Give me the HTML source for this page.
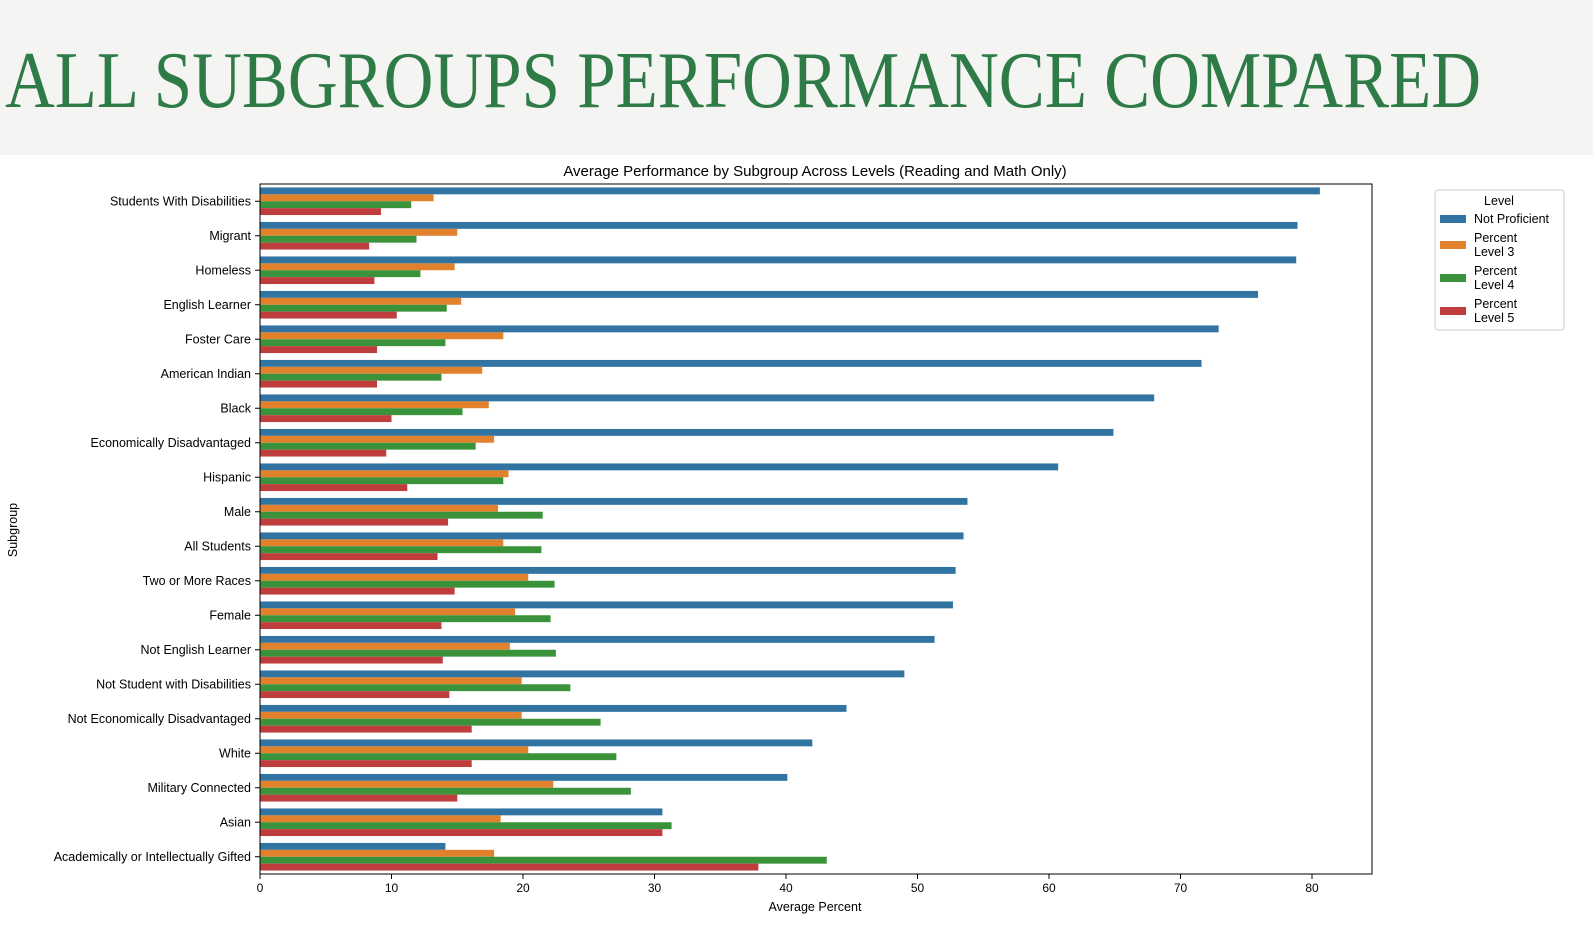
<!DOCTYPE html>
<html><head><meta charset="utf-8">
<style>
body{margin:0;width:1593px;height:928px;background:#fff;overflow:hidden;font-family:"Liberation Sans",sans-serif;}
#hdr{position:absolute;left:0;top:0;width:1593px;height:155px;background:#f4f4f2;}
svg{position:absolute;left:0;top:0;}
</style></head><body>
<div id="hdr"></div>
<svg id="chart" width="1593" height="928">
<text x="5" y="107" font-family="Liberation Serif, serif" font-size="80" fill="#2e7b47" textLength="1476" lengthAdjust="spacingAndGlyphs">ALL SUBGROUPS PERFORMANCE COMPARED</text>
</svg>
<script>
const categories=["Students With Disabilities","Migrant","Homeless","English Learner","Foster Care","American Indian","Black","Economically Disadvantaged","Hispanic","Male","All Students","Two or More Races","Female","Not English Learner","Not Student with Disabilities","Not Economically Disadvantaged","White","Military Connected","Asian","Academically or Intellectually Gifted"];
const notProficient=[80.6,78.9,78.8,75.9,72.9,71.6,68.0,64.9,60.7,53.8,53.5,52.9,52.7,51.3,49.0,44.6,42.0,40.1,30.6,14.1];
const level3=[13.2,15.0,14.8,15.3,18.5,16.9,17.4,17.8,18.9,18.1,18.5,20.4,19.4,19.0,19.9,19.9,20.4,22.3,18.3,17.8];
const level4=[11.5,11.9,12.2,14.2,14.1,13.8,15.4,16.4,18.5,21.5,21.4,22.4,22.1,22.5,23.6,25.9,27.1,28.2,31.3,43.1];
const level5=[9.2,8.3,8.7,10.4,8.9,8.9,10.0,9.6,11.2,14.3,13.5,14.8,13.8,13.9,14.4,16.1,16.1,15.0,30.6,37.9];
const seriesNames=["Not Proficient","Percent\nLevel 3","Percent\nLevel 4","Percent\nLevel 5"];
const xTicks=[0,10,20,30,40,50,60,70,80];
const colors=["#3274a1","#e1812c","#3a923a","#c03d3e"];
const svg=document.getElementById('chart');
const NS="http://www.w3.org/2000/svg";
const L=260,R=1372,T=184,B=874;
const xs=v=>L+v*13.15;
const band=(B-T)/categories.length;
const yc=i=>T+band*(i+0.5);
function mk(tag,attrs){const e=document.createElementNS(NS,tag);for(const k in attrs)e.setAttribute(k,attrs[k]);svg.appendChild(e);return e;}
function txt(x,y,s,size,anchor,extra){const e=mk('text',Object.assign({x:x,y:y,'font-size':size,'text-anchor':anchor,fill:'#000','font-family':'Liberation Sans, sans-serif'},extra||{}));e.textContent=s;return e;}
const t=txt(815,176,"Average Performance by Subgroup Across Levels (Reading and Math Only)",15,'middle');

const series=[notProficient,level3,level4,level5];
const bh=band*0.8/4;
series.forEach((arr,s)=>{arr.forEach((v,i)=>{
 const r=mk('rect',{x:xs(0),y:yc(i)-band*0.4+s*bh,width:xs(v)-xs(0),height:bh,fill:colors[s]});
 
 
});});
const fr=mk('rect',{x:L,y:T,width:R-L,height:B-T,fill:'none',stroke:'#000','stroke-width':1});

xTicks.forEach(v=>{
 mk('line',{x1:xs(v),x2:xs(v),y1:B,y2:B+5,stroke:'#000'});
 const e=txt(xs(v),892,String(v),12,'middle');
 
});
categories.forEach((c,i)=>{
 mk('line',{x1:L-5,x2:L,y1:yc(i),y2:yc(i),stroke:'#000'});
 const e=txt(251,yc(i)+4,c,12.5,'end');
 
});
const xl=txt(815,911,"Average Percent",12.5,'middle');

const yl=txt(17,530,"Subgroup",12.5,'middle',{transform:'rotate(-90 17 530)'});

const lb=mk('rect',{x:1435,y:190,width:129,height:140,fill:'#fff',stroke:'#ccc',rx:3});

const lt=txt(1499,205,"Level",12.5,'middle');

const ly=[219,245,278,311];
seriesNames.forEach((n,s)=>{
 const r=mk('rect',{x:1440,y:ly[s]-4,width:26,height:8,fill:colors[s]});
 
 const lines=n.split("\n");
 lines.forEach((ln,j)=>{
  const e=txt(1474,ly[s]+4-(lines.length-1)*7+j*14,ln,12.5,'start');
  
 });
});
</script>
</body></html>
